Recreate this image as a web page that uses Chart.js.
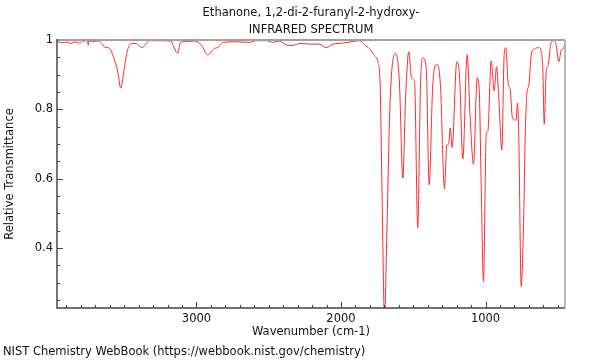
<!DOCTYPE html>
<html>
<head>
<meta charset="utf-8">
<script src="https://cdn.jsdelivr.net/npm/chart.js@4/dist/chart.umd.min.js"></script>
<style>
  body { margin: 0; background: #fff; }
</style>
</head>
<body>
<canvas id="irChart" width="600" height="360"></canvas>
<script>
// wavenumber (cm-1) and relative transmittance
const wavenumbers = [
  3964, 3930, 3900, 3867, 3840, 3810, 3780, 3754, 3749, 3744, 3715, 3683,
  3660, 3637, 3602, 3567, 3545, 3524, 3503, 3480, 3452, 3417, 3378, 3325,
  3250, 3175, 3157, 3129, 3111, 3060, 3014, 2967, 2922, 2875, 2853, 2818,
  2725, 2633, 2587, 2518, 2472, 2426, 2379, 2334, 2287, 2195, 2149, 2102,
  2057, 1987, 1930, 1872, 1837, 1803, 1768, 1745, 1729, 1715, 1699, 1683,
  1664, 1649, 1623, 1607, 1595, 1572, 1554, 1531, 1512, 1491, 1469, 1450,
  1434, 1410, 1390, 1365, 1337, 1312, 1284, 1268, 1256, 1244, 1231, 1199,
  1180, 1157, 1127, 1106, 1083, 1058, 1044, 1030, 1014, 995, 984, 961,
  940, 924, 908, 887, 871, 860, 843, 829, 815, 797, 788, 779, 770, 753,
  737, 725, 714, 700, 684, 661, 631, 615, 603, 594, 580, 566, 550, 529,
  511, 493, 476, 460, 453
];
const transmittance = [
  0.996, 0.992, 0.994, 0.990, 0.995, 0.991, 0.997, 0.998, 0.985, 0.997, 0.996, 0.997,
  0.993, 0.980, 0.976, 0.942, 0.909, 0.861, 0.909, 0.966, 0.990, 0.990, 0.978, 0.998,
  0.998, 0.997, 0.980, 0.962, 0.993, 0.996, 0.997, 0.986, 0.957, 0.976, 0.978, 0.993,
  0.995, 0.993, 0.998, 0.998, 0.993, 0.997, 0.986, 0.984, 0.990, 0.988, 0.988, 0.978,
  0.988, 0.991, 0.995, 0.998, 0.986, 0.975, 0.955, 0.937, 0.870, 0.534, 0.200, 0.438,
  0.774, 0.909, 0.962, 0.937, 0.870, 0.601, 0.822, 0.966, 0.890, 0.880, 0.459, 0.870,
  0.949, 0.918, 0.582, 0.870, 0.930, 0.870, 0.571, 0.697, 0.699, 0.746, 0.690, 0.937,
  0.899, 0.657, 0.957, 0.774, 0.642, 0.891, 0.861, 0.582, 0.304, 0.731, 0.736, 0.940,
  0.853, 0.923, 0.832, 0.683, 0.957, 0.978, 0.875, 0.856, 0.779, 0.769, 0.769, 0.818, 0.726, 0.289,
  0.467, 0.726, 0.846, 0.870, 0.957, 0.974, 0.978, 0.968, 0.909, 0.757, 0.909, 0.928, 0.986, 0.998,
  0.986, 0.937, 0.971, 0.976, 0.986
];

const xMajorTicks = [1000, 2000, 3000];
const yMajorTicks = [0.4, 0.6, 0.8, 1];
const xMinorStep = 100;
const yMinorStep = 0.05;

const fontFamily = "'DejaVu Sans', sans-serif";
const fontSize = 11.5;
const axisColor = "#444";
const frameColor = "#a0a0a0";

// frame, inward tick marks and footer text
const framePlugin = {
  id: "frame",
  afterDraw(chart) {
    const { ctx, chartArea: a, scales } = chart;
    const x = scales.x;
    const y = scales.y;
    ctx.save();

    ctx.strokeStyle = frameColor;
    ctx.lineWidth = 2;
    ctx.beginPath();
    ctx.moveTo(a.left, a.top);
    ctx.lineTo(a.right, a.top);
    ctx.stroke();
    ctx.lineWidth = 1.5;
    ctx.beginPath();
    ctx.moveTo(a.right, a.top);
    ctx.lineTo(a.right, a.bottom);
    ctx.stroke();

    ctx.strokeStyle = axisColor;
    ctx.lineWidth = 1.5;
    ctx.beginPath();
    ctx.moveTo(a.left, a.top - 1);
    ctx.lineTo(a.left, a.bottom);
    ctx.lineTo(a.right, a.bottom);
    ctx.stroke();

    ctx.lineWidth = 1;
    ctx.beginPath();
    for (let v = 500; v <= x.max; v += xMinorStep) {
      const px = Math.round(x.getPixelForValue(v)) + 0.5;
      const len = xMajorTicks.includes(v) ? 6 : 3;
      ctx.moveTo(px, a.bottom);
      ctx.lineTo(px, a.bottom - len);
    }
    for (let i = 5; i <= 19; i++) {
      const v = i * yMinorStep;
      const py = Math.round(y.getPixelForValue(v)) + 0.5;
      const len = i % 4 === 0 ? 6 : 3;
      ctx.moveTo(a.left, py);
      ctx.lineTo(a.left + len, py);
    }
    ctx.stroke();

    ctx.fillStyle = "#111";
    ctx.font = fontSize + "px " + fontFamily;
    ctx.textAlign = "left";
    ctx.textBaseline = "middle";
    ctx.fillText("NIST Chemistry WebBook (https://webbook.nist.gov/chemistry)", 3, 352);
    ctx.restore();
  },
};

new Chart(document.getElementById("irChart"), {
  type: "line",
  data: {
    datasets: [
      {
        data: wavenumbers.map((w, i) => ({ x: w, y: transmittance[i] })),
        borderColor: "#ff2a2a",
        borderWidth: 1,
        pointRadius: 0,
        cubicInterpolationMode: "monotone",
        fill: false,
      },
    ],
  },
  options: {
    responsive: false,
    animation: false,
    layout: { padding: { left: 0, right: 35, top: 0, bottom: 0 } },
    plugins: {
      legend: { display: false },
      tooltip: { enabled: false },
      title: {
        display: true,
        fullSize: false,
        text: ["Ethanone, 1,2-di-2-furanyl-2-hydroxy-", "INFRARED SPECTRUM"],
        color: "#111",
        font: { family: fontFamily, size: fontSize, weight: "normal", lineHeight: 17 / fontSize },
        padding: { top: 4.5, bottom: 1.5 },
      },
    },
    scales: {
      x: {
        type: "linear",
        reverse: true,
        min: 450,
        max: 3965,
        border: { display: false },
        grid: { display: false, drawTicks: false },
        afterBuildTicks: (s) => {
          s.ticks = xMajorTicks.map((v) => ({ value: v }));
        },
        afterFit: (s) => {
          s.height = 52;
        },
        ticks: {
          color: "#111",
          padding: 4,
          maxRotation: 0,
          font: { family: fontFamily, size: fontSize },
          callback: (v) => String(v),
        },
        title: {
          display: true,
          text: "Wavenumber (cm-1)",
          color: "#111",
          font: { family: fontFamily, size: fontSize },
          padding: { top: 0, bottom: 21 },
        },
      },
      y: {
        min: 0.227,
        max: 1.0,
        border: { display: false },
        grid: { display: false, drawTicks: false },
        afterBuildTicks: (s) => {
          s.ticks = yMajorTicks.map((v) => ({ value: v }));
        },
        afterFit: (s) => {
          s.width = 57;
        },
        ticks: {
          color: "#111",
          padding: 4,
          font: { family: fontFamily, size: fontSize },
          callback: (v) => (v === 1 ? "1" : v.toFixed(1)),
        },
        title: {
          display: true,
          text: "Relative Transmittance",
          color: "#111",
          font: { family: fontFamily, size: fontSize },
          padding: { top: 3, bottom: 3 },
        },
      },
    },
  },
  plugins: [framePlugin],
});
</script>
</body>
</html>
